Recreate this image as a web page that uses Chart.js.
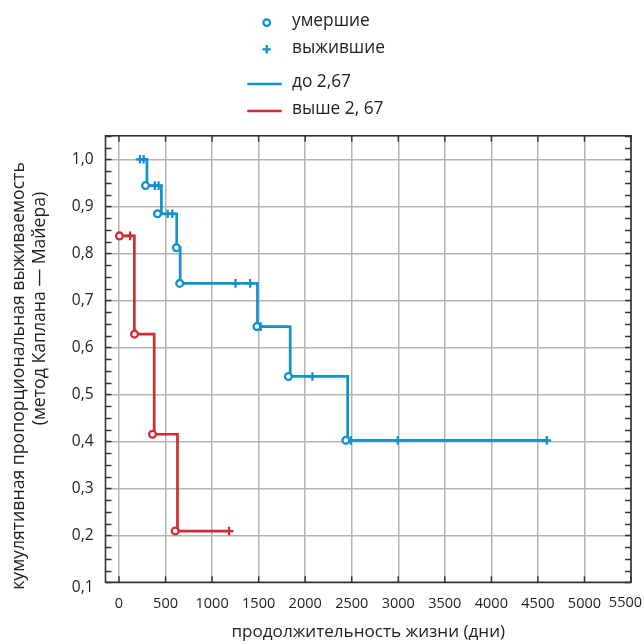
<!DOCTYPE html>
<html><head><meta charset="utf-8">
<script src="https://cdn.jsdelivr.net/npm/chart.js@4.4.1/dist/chart.umd.min.js"></script>
<style>html,body{margin:0;padding:0;background:#fff;}#wrap{width:644px;height:644px;}</style>
</head><body><div id="wrap"><canvas id="c" width="644" height="644"></canvas></div>
<script>
// ---------- data ----------
const legendLabels = ['умершие', 'выжившие', 'до 2,67', 'выше 2, 67'];
const xTitle = 'продолжительность жизни (дни)';
const yTitleLines = ['кумулятивная пропорциональная выживаемость', '(метод Каплана — Майера)'];
const xTickValues = [0, 500, 1000, 1500, 2000, 2500, 3000, 3500, 4000, 4500, 5000, 5500];
const xTickLabels = ['0', '500', '1000', '1500', '2000', '2500', '3000', '3500', '4000', '4500', '5000', '5500'];
const yTickValues = [0.1, 0.2, 0.3, 0.4, 0.5, 0.6, 0.7, 0.8, 0.9, 1.0];
const yTickLabels = ['0,1', '0,2', '0,3', '0,4', '0,5', '0,6', '0,7', '0,8', '0,9', '1,0'];

// group "до 2,67" (blue)
const lowStepDays = [225, 300, 455, 620, 657, 1487, 1839, 2456, 4596];
const lowStepSurv = [1.0, 0.944, 0.884, 0.812, 0.736, 0.644, 0.538, 0.402, 0.402];
const lowDeathDays = [285, 414, 617, 652, 1481, 1820, 2437];
const lowDeathSurv = [0.944, 0.884, 0.812, 0.736, 0.644, 0.538, 0.402];
const lowCensorDays = [225, 265, 385, 425, 523, 572, 1252, 1408, 1522, 2078, 2490, 2995, 4596];
const lowCensorSurv = [1.0, 1.0, 0.944, 0.944, 0.884, 0.884, 0.736, 0.736, 0.644, 0.538, 0.402, 0.402, 0.402];

// group "выше 2, 67" (red)
const highStepDays = [5, 165, 378, 628, 1183];
const highStepSurv = [0.837, 0.628, 0.415, 0.209, 0.209];
const highDeathDays = [5, 167, 360, 604];
const highDeathSurv = [0.837, 0.628, 0.415, 0.209];
const highCensorDays = [120, 1183];
const highCensorSurv = [0.837, 0.209];

// ---------- styles ----------
const BLUE = '#1192cc';
const RED = '#d52a33';
const TEXT = '#222222';
const FAMILY = '"Open Sans", "Noto Sans", sans-serif';
const mctx = document.createElement('canvas').getContext('2d');
function fitSize(text, width) { mctx.font = '100px ' + FAMILY; return 100 * width / mctx.measureText(text).width; }
const legendSize = fitSize(legendLabels[1], 93);
const xTitleSize = fitSize(xTitle, 274);
const yTitleSize = fitSize(yTitleLines[0], 428);
const tickSize = 14.5;

const pts = (xs, ys) => xs.map((x, i) => ({x: x, y: ys[i]}));

const X_MIN = -145, X_MAX = 5500, Y_MIN = 0.1, Y_MAX = 1.05;

const decor = {
  id: 'decor',
  beforeDatasetsDraw(chart) {
    const {ctx, chartArea: a, scales: {x, y}} = chart;
    ctx.save();
    ctx.strokeStyle = '#333';
    ctx.lineWidth = 1.4;
    ctx.beginPath();
    for (let v = Y_MIN; v <= Y_MAX + 1e-9; v += 0.025) {
      const py = Math.round(y.getPixelForValue(v)) + 0.5;
      ctx.moveTo(a.left, py); ctx.lineTo(a.left + 6, py);
      ctx.moveTo(a.right, py); ctx.lineTo(a.right - 6, py);
    }
    xTickValues.forEach(v => {
      const px = x.getPixelForValue(v);
      ctx.moveTo(px, a.top); ctx.lineTo(px, a.top + 6);
      ctx.moveTo(px, a.bottom); ctx.lineTo(px, a.bottom - 6);
    });
    ctx.stroke();
    ctx.strokeStyle = '#333';
    ctx.lineWidth = 1.6;
    ctx.strokeRect(a.left, a.top, a.right - a.left, a.bottom - a.top);
    ctx.restore();
  },
  afterDraw(chart) {
    const {ctx, scales: {y}} = chart;
    ctx.save();
    ctx.fillStyle = TEXT;
    ctx.font = tickSize + 'px ' + FAMILY;
    ctx.textAlign = 'right';
    ctx.textBaseline = 'middle';
    ctx.fillText(xTickLabels[xTickLabels.length - 1], 642, 603);
    ctx.font = '15.5px ' + FAMILY;
    ctx.fillText(yTickLabels[0], 93.5, y.getPixelForValue(yTickValues[0]) + 5);
    // y axis title (two lines)
    ctx.textAlign = 'center';
    ctx.font = yTitleSize + 'px ' + FAMILY;
    ctx.save();
    ctx.translate(19, 376); ctx.rotate(-Math.PI / 2);
    ctx.fillText(yTitleLines[0], 0, 0);
    ctx.restore();
    ctx.save();
    ctx.translate(39.5, 308.5); ctx.rotate(-Math.PI / 2);
    ctx.fillText(yTitleLines[1], 0, 0);
    ctx.restore();
    // legend
    const lx = 266.7, tx = 292;
    ctx.lineWidth = 2.3;
    ctx.strokeStyle = BLUE;
    ctx.fillStyle = '#fff';
    ctx.beginPath(); ctx.arc(lx, 22.7, 3.3, 0, Math.PI * 2); ctx.fill(); ctx.stroke();
    ctx.beginPath();
    ctx.moveTo(lx - 4.2, 49.3); ctx.lineTo(lx + 4.2, 49.3);
    ctx.moveTo(lx, 45.1); ctx.lineTo(lx, 53.5);
    ctx.stroke();
    ctx.lineWidth = 2.6;
    ctx.beginPath(); ctx.moveTo(247.3, 84); ctx.lineTo(281.7, 84); ctx.stroke();
    ctx.strokeStyle = RED;
    ctx.beginPath(); ctx.moveTo(247.3, 111); ctx.lineTo(281.7, 111); ctx.stroke();
    ctx.fillStyle = TEXT;
    ctx.textAlign = 'left';
    ctx.font = legendSize + 'px ' + FAMILY;
    [21.5, 48.5, 82, 109].forEach((ty, i) => ctx.fillText(legendLabels[i], tx, ty));
    ctx.restore();
  }
};

new Chart(document.getElementById('c'), {
  type: 'scatter',
  data: {
    datasets: [
      {type: 'line', data: pts(lowStepDays, lowStepSurv), stepped: 'before', borderColor: BLUE, borderWidth: 2.7, pointRadius: 0, fill: false, order: 3},
      {type: 'line', data: pts(highStepDays, highStepSurv), stepped: 'before', borderColor: RED, borderWidth: 2.7, pointRadius: 0, fill: false, order: 3},
      {data: pts(lowCensorDays, lowCensorSurv), pointStyle: 'cross', pointRadius: 4.3, borderColor: BLUE, borderWidth: 2.3, order: 2},
      {data: pts(highCensorDays, highCensorSurv), pointStyle: 'cross', pointRadius: 4.3, borderColor: RED, borderWidth: 2.3, order: 2},
      {data: pts(lowDeathDays, lowDeathSurv), pointStyle: 'circle', pointRadius: 3.4, borderColor: BLUE, backgroundColor: '#fff', borderWidth: 2.3, order: 1},
      {data: pts(highDeathDays, highDeathSurv), pointStyle: 'circle', pointRadius: 3.4, borderColor: RED, backgroundColor: '#fff', borderWidth: 2.3, order: 1}
    ]
  },
  options: {
    responsive: false,
    animation: false,
    events: [],
    layout: {padding: {top: 135.8, left: 0, right: 0, bottom: 0}},
    plugins: {legend: {display: false}, tooltip: {enabled: false}},
    scales: {
      x: {
        type: 'linear', min: X_MIN, max: X_MAX,
        afterBuildTicks: s => { s.ticks = xTickValues.map(v => ({value: v})); },
        afterFit: s => { s.height = 61.7; s.paddingRight = 13; s.paddingLeft = 0; },
        ticks: {
          autoSkip: false, maxRotation: 0, padding: 13,
          font: {family: FAMILY, size: tickSize},
          color: c => c.index === xTickLabels.length - 1 ? 'rgba(0,0,0,0)' : TEXT,
          callback: (v, i) => xTickLabels[i]
        },
        grid: {color: '#b3b3b3', lineWidth: 1.5, drawTicks: false},
        border: {display: false},
        title: {display: true, text: xTitle, color: TEXT, font: {family: FAMILY, size: xTitleSize}, padding: {top: 0, bottom: 2}}
      },
      y: {
        type: 'linear', min: Y_MIN, max: Y_MAX,
        afterBuildTicks: s => { s.ticks = yTickValues.map(v => ({value: v})); },
        afterFit: s => { s.width = 105.5; },
        ticks: {
          autoSkip: false, padding: 12,
          font: {family: FAMILY, size: 15.5},
          color: c => c.index === 0 ? 'rgba(0,0,0,0)' : TEXT,
          callback: (v, i) => yTickLabels[i]
        },
        grid: {color: '#b3b3b3', lineWidth: 1.5, drawTicks: false},
        border: {display: false}
      }
    }
  },
  plugins: [decor]
});
</script></body></html>
